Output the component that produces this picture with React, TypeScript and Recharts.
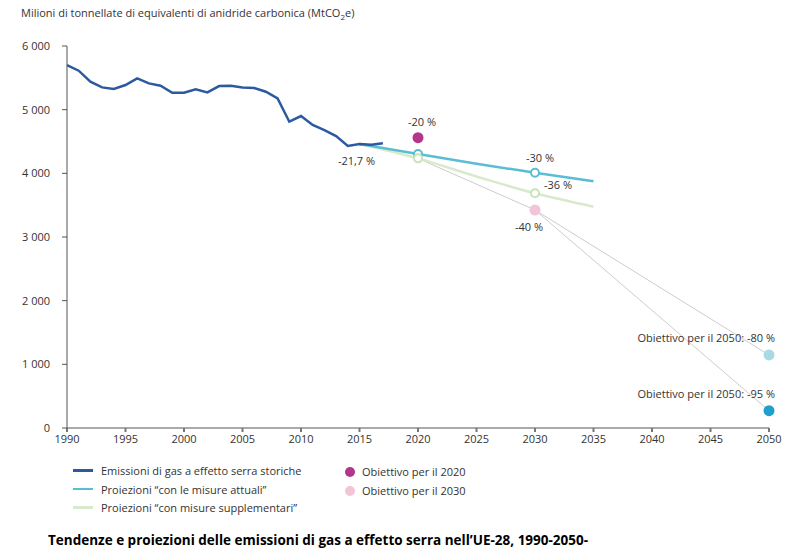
import React from 'react';
import { ComposedChart, Line, Scatter, XAxis, YAxis } from 'recharts';

const historicYears = [1990,1991,1992,1993,1994,1995,1996,1997,1998,1999,2000,2001,2002,2003,2004,2005,2006,2007,2008,2009,2010,2011,2012,2013,2014,2015,2016,2017];
const historicValues = [5700,5612,5440,5350,5324,5387,5492,5413,5376,5266,5266,5319,5272,5371,5376,5350,5340,5282,5178,4811,4900,4759,4680,4586,4429,4460,4450,4471];

const projYears = [2015, 2020, 2025, 2030, 2035];
const wemValues = [4460, 4303, 4150, 4010, 3874];
const wamValues = [4460, 4235, 3950, 3686, 3476];

const target2020 = { year: 2020, value: 4560, label: '-20 %' };
const target2030 = { year: 2030, value: 3424, label: '-40 %' };
const target2050a = { year: 2050, value: 1147, label: 'Obiettivo per il 2050: -80 %' };
const target2050b = { year: 2050, value: 272, label: 'Obiettivo per il 2050: -95 %' };

const xTicks = [1990,1995,2000,2005,2010,2015,2020,2025,2030,2035,2040,2045,2050];
const yTicks = [0,1000,2000,3000,4000,5000,6000];

const legendLines = [
  { label: 'Emissioni di gas a effetto serra storiche', color: '#2c5aa0' },
  { label: 'Proiezioni \u201ccon le misure attuali\u201d', color: '#5bbdd3' },
  { label: 'Proiezioni \u201ccon misure supplementari\u201d', color: '#d8eacb' },
];
const legendDots = [
  { label: 'Obiettivo per il 2020', color: '#b5358a' },
  { label: 'Obiettivo per il 2030', color: '#f3c4d8' },
];

const C_HIST = '#2c5aa0';
const C_WEM = '#5bbdd3';
const C_WAM = '#d8eacb';
const FONT = '"Open Sans", "Noto Sans", sans-serif';

const historic = historicYears.map((y, i) => ({ x: y, v: historicValues[i] }));
const wem = projYears.map((y, i) => ({ x: y, v: wemValues[i] }));
const wam = projYears.map((y, i) => ({ x: y, v: wamValues[i] }));
const connA = [
  { x: 2020, v: wamValues[1] },
  { x: target2030.year, v: target2030.value },
  { x: target2050a.year, v: target2050a.value },
];
const connB = [
  { x: target2030.year, v: target2030.value },
  { x: target2050b.year, v: target2050b.value },
];

type Ann = { x: number; v: number; label?: string; dx: number; dy: number; anchor: string; r: number; fill: string; stroke?: string };

const annotations: Ann[] = [
  { x: 2015, v: 4460, label: '-21,7 %', dx: -3, dy: 18, anchor: 'middle', r: 0, fill: 'none' },
  { x: target2020.year, v: target2020.value, label: target2020.label, dx: 4, dy: -15, anchor: 'middle', r: 5.5, fill: '#b5358a' },
  { x: target2030.year, v: target2030.value, label: target2030.label, dx: -6, dy: 18, anchor: 'middle', r: 5.5, fill: '#f3c4d8' },
  { x: 2020, v: wemValues[1], dx: 0, dy: 0, anchor: 'middle', r: 4, fill: '#fff', stroke: C_WEM },
  { x: 2020, v: wamValues[1], dx: 0, dy: 0, anchor: 'middle', r: 4, fill: '#fff', stroke: '#c9e2b8' },
  { x: 2030, v: wamValues[3], label: '-36 %', dx: 9, dy: -7, anchor: 'start', r: 4, fill: '#fff', stroke: '#c9e2b8' },
  { x: 2030, v: wemValues[3], label: '-30 %', dx: 5, dy: -14, anchor: 'middle', r: 4, fill: '#fff', stroke: C_WEM },
  { x: target2050a.year, v: target2050a.value, label: target2050a.label, dx: 6, dy: -16, anchor: 'end', r: 5.5, fill: '#a9d9e4' },
  { x: target2050b.year, v: target2050b.value, label: target2050b.label, dx: 6, dy: -16, anchor: 'end', r: 5.5, fill: '#1fa0cc' },
];

const AnnShape = (props: any) => {
  const { cx, cy, payload } = props;
  const p = payload as Ann;
  return (
    <g>
      {p.r > 0 && <circle cx={cx} cy={cy} r={p.r} fill={p.fill} stroke={p.stroke || 'none'} strokeWidth={p.stroke ? 2 : 0} />}
      {p.label && (
        <text x={cx + p.dx} y={cy + p.dy} textAnchor={p.anchor} dominantBaseline="middle" fontSize={11} fill="#333" fontFamily={FONT}>
          {p.label}
        </text>
      )}
    </g>
  );
};

const fmt = (v: number) => (v >= 1000 ? `${Math.floor(v / 1000)} ${String(v % 1000).padStart(3, '0')}` : String(v));

export default function App() {
  return (
    <div style={{ position: 'absolute', left: 0, top: 0, width: 795, height: 557, background: '#fff', fontFamily: FONT }}>
      <div style={{ position: 'absolute', left: 21, top: 5, fontSize: 11, color: '#333', whiteSpace: 'nowrap' }}>
        Milioni di tonnellate di equivalenti di anidride carbonica (MtCO<sub style={{ fontSize: 8 }}>2</sub>e)
      </div>
      <ComposedChart width={795} height={557} margin={{ top: 46, right: 26, bottom: 99, left: 0 }}>
        <XAxis
          dataKey="x"
          type="number"
          domain={[1990, 2050]}
          ticks={xTicks}
          allowDuplicatedCategory={false}
          stroke="#999"
          strokeWidth={2}
          tickSize={4}
          tickMargin={3}
          tick={{ fontSize: 11, fill: '#333', fontFamily: FONT }}
          axisLine={{ stroke: '#aaa', strokeWidth: 2 }}
          tickLine={{ stroke: '#777' }}
          height={30}
        />
        <YAxis
          dataKey="v"
          type="number"
          domain={[0, 6000]}
          ticks={yTicks}
          width={67}
          tickSize={5}
          tickMargin={12}
          tickFormatter={fmt}
          tick={{ fontSize: 11, fill: '#333', fontFamily: FONT }}
          axisLine={{ stroke: '#555' }}
          tickLine={{ stroke: '#555' }}
        />
        <Line data={connA} dataKey="v" stroke="#cccccc" strokeWidth={1} dot={false} isAnimationActive={false} />
        <Line data={connB} dataKey="v" stroke="#cccccc" strokeWidth={1} dot={false} isAnimationActive={false} />
        <Line data={wam} dataKey="v" type="monotone" stroke={C_WAM} strokeWidth={2.5} dot={false} isAnimationActive={false} />
        <Line data={wem} dataKey="v" type="monotone" stroke={C_WEM} strokeWidth={2.5} dot={false} isAnimationActive={false} />
        <Line data={historic} dataKey="v" stroke={C_HIST} strokeWidth={2.5} dot={false} isAnimationActive={false} />
        <Scatter data={annotations} dataKey="v" shape={AnnShape} isAnimationActive={false} />
      </ComposedChart>
      {legendLines.map((l, i) => (
        <div key={l.label} style={{ position: 'absolute', left: 73, top: 463 + i * 18.5, display: 'flex', alignItems: 'center', fontSize: 11, color: '#333', whiteSpace: 'nowrap' }}>
          <span style={{ display: 'inline-block', width: 20, height: 2.5, background: l.color, marginRight: 8 }} />
          {l.label}
        </div>
      ))}
      {legendDots.map((l, i) => (
        <div key={l.label} style={{ position: 'absolute', left: 345, top: 464 + i * 19, display: 'flex', alignItems: 'center', fontSize: 11, color: '#333', whiteSpace: 'nowrap' }}>
          <span style={{ display: 'inline-block', width: 10, height: 10, borderRadius: 5, background: l.color, marginRight: 7 }} />
          {l.label}
        </div>
      ))}
      <div style={{ position: 'absolute', left: 48, top: 531, fontSize: 13.5, fontWeight: 700, color: '#000', whiteSpace: 'nowrap' }}>
        Tendenze e proiezioni delle emissioni di gas a effetto serra nell’UE-28, 1990-2050-
      </div>
    </div>
  );
}
